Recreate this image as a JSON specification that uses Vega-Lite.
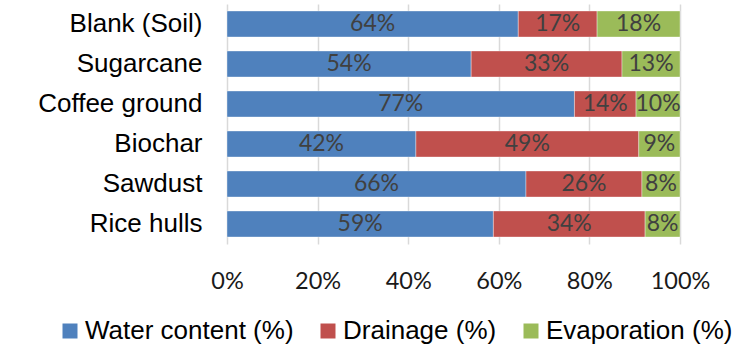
{
  "$schema": "https://vega.github.io/schema/vega-lite/v6.json",
  "width": 453,
  "height": 240,
  "autosize": {"type": "none"},
  "padding": {"left": 227, "top": 4, "right": 58, "bottom": 103},
  "background": "#ffffff",
  "config": {"view": {"stroke": null}},
  "data": {
    "values": [
      {"material": "Blank (Soil)", "series": "Water content (%)", "order": 1, "value": 0.643},
      {"material": "Blank (Soil)", "series": "Drainage (%)", "order": 2, "value": 0.174},
      {"material": "Blank (Soil)", "series": "Evaporation (%)", "order": 3, "value": 0.183},
      {"material": "Sugarcane", "series": "Water content (%)", "order": 1, "value": 0.539},
      {"material": "Sugarcane", "series": "Drainage (%)", "order": 2, "value": 0.333},
      {"material": "Sugarcane", "series": "Evaporation (%)", "order": 3, "value": 0.128},
      {"material": "Coffee ground", "series": "Water content (%)", "order": 1, "value": 0.767},
      {"material": "Coffee ground", "series": "Drainage (%)", "order": 2, "value": 0.136},
      {"material": "Coffee ground", "series": "Evaporation (%)", "order": 3, "value": 0.097},
      {"material": "Biochar", "series": "Water content (%)", "order": 1, "value": 0.417},
      {"material": "Biochar", "series": "Drainage (%)", "order": 2, "value": 0.492},
      {"material": "Biochar", "series": "Evaporation (%)", "order": 3, "value": 0.091},
      {"material": "Sawdust", "series": "Water content (%)", "order": 1, "value": 0.660},
      {"material": "Sawdust", "series": "Drainage (%)", "order": 2, "value": 0.256},
      {"material": "Sawdust", "series": "Evaporation (%)", "order": 3, "value": 0.084},
      {"material": "Rice hulls", "series": "Water content (%)", "order": 1, "value": 0.588},
      {"material": "Rice hulls", "series": "Drainage (%)", "order": 2, "value": 0.335},
      {"material": "Rice hulls", "series": "Evaporation (%)", "order": 3, "value": 0.077}
    ]
  },
  "transform": [
    {"stack": "value", "groupby": ["material"], "sort": [{"field": "order"}], "as": ["x0", "x1"]},
    {"calculate": "(datum.x0 + datum.x1) / 2", "as": "mid"}
  ],
  "encoding": {
    "y": {
      "field": "material",
      "type": "nominal",
      "sort": ["Blank (Soil)", "Sugarcane", "Coffee ground", "Biochar", "Sawdust", "Rice hulls"],
      "scale": {"paddingInner": 0.35, "paddingOuter": 0.175},
      "axis": {
        "title": null,
        "domain": false,
        "ticks": false,
        "labelFont": "Liberation Sans",
        "labelFontSize": 26,
        "labelColor": "#000000",
        "labelPadding": 25,
        "labelLimit": 400
      }
    }
  },
  "layer": [
    {
      "mark": {"type": "bar", "stroke": "#ffffff", "strokeWidth": 0.6, "strokeOpacity": 0.6},
      "encoding": {
        "x": {
          "field": "x0",
          "type": "quantitative",
          "scale": {"domain": [0, 1], "nice": false},
          "axis": {
            "title": null,
            "values": [0, 0.2, 0.4, 0.6, 0.8, 1],
            "format": ".0%",
            "domain": false,
            "ticks": false,
            "grid": true,
            "gridColor": "#d9d9d9",
            "gridWidth": 1.5,
            "labelFont": "Lato",
            "labelFontSize": 23.5,
            "labelColor": "#1a1a1a",
            "labelPadding": 25,
            "labelBaseline": "top",
            "labelFlush": false,
            "labelOverlap": false
          }
        },
        "x2": {"field": "x1"},
        "color": {
          "field": "series",
          "type": "nominal",
          "scale": {
            "domain": ["Water content (%)", "Drainage (%)", "Evaporation (%)"],
            "range": ["#4f81bd", "#c0504d", "#9bbb59"]
          },
          "legend": {
            "title": null,
            "orient": "none",
            "direction": "horizontal",
            "legendX": -170,
            "legendY": 314,
            "symbolType": "square",
            "symbolSize": 225,
            "symbolStrokeWidth": 0,
            "labelFont": "Liberation Sans",
            "labelFontSize": 26,
            "labelColor": "#000000",
            "labelOffset": 2,
            "labelLimit": 400,
            "columnPadding": 21
          }
        }
      }
    },
    {
      "mark": {"type": "text", "font": "Lato", "fontSize": 23, "color": "#404040", "baseline": "middle", "align": "center"},
      "encoding": {
        "x": {"field": "mid", "type": "quantitative"},
        "text": {"field": "value", "type": "quantitative", "format": ".0%"}
      }
    }
  ]
}
